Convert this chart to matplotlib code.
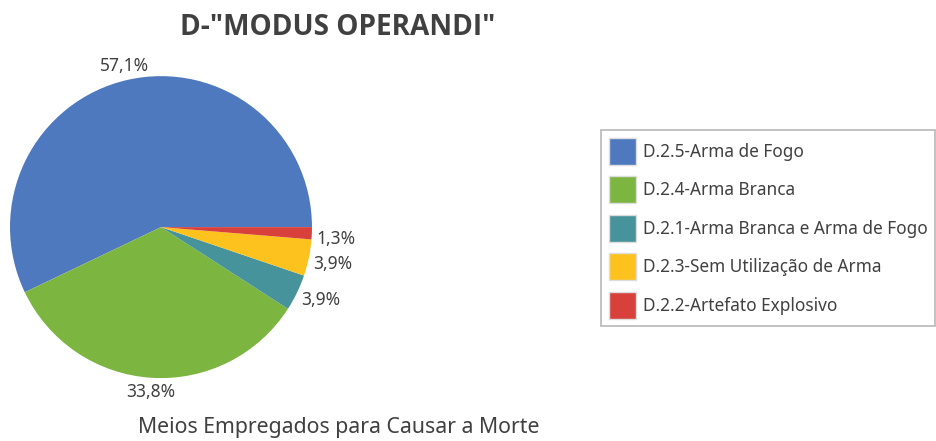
import matplotlib
matplotlib.use("Agg")
from matplotlib import pyplot as plt
from matplotlib.patches import Patch

# chart data, in drawing order (counter-clockwise from 3 o'clock)
categories = [
    "D.2.5-Arma de Fogo",
    "D.2.4-Arma Branca",
    "D.2.1-Arma Branca e Arma de Fogo",
    "D.2.3-Sem Utilização de Arma",
    "D.2.2-Artefato Explosivo",
]
shares = [57.1, 33.8, 3.9, 3.9, 1.3]
pct_labels = ["57,1%", "33,8%", "3,9%", "3,9%", "1,3%"]
colors = ["#4e79be", "#7db541", "#46939b", "#fdc21e", "#d8413b"]

TEXT = "#404040"
plt.rcParams["font.family"] = ["Noto Sans", "DejaVu Sans"]

fig = plt.figure(figsize=(9.36, 4.41), dpi=100)
ax = fig.add_axes([0.172 - 0.1613, 0.485 - 0.3424, 0.3226, 0.6848])

wedges, texts = ax.pie(
    shares,
    labels=pct_labels,
    colors=colors,
    startangle=0,
    counterclock=True,
    labeldistance=1.03,
    textprops={"color": TEXT, "fontsize": 12.5},
)
# top and bottom labels sit centred, a bit further out
for t in texts[:2]:
    t.set_ha("center")
    x, y = t.get_position()
    t.set_position((x * 1.065, y * 1.065))
# small slices: labels hang slightly below their radial point
for t in texts[2:]:
    t.set_va("top")
    x, y = t.get_position()
    t.set_position((x, y + 0.025))
ax.set_xlim(-1, 1)
ax.set_ylim(-1, 1)
ax.set_aspect("equal")

fig.text(0.361, 0.937, 'D-"MODUS OPERANDI"', ha="center", va="center",
         fontsize=20.2, fontweight="bold", color=TEXT,
         family=["Open Sans", "DejaVu Sans"])
fig.text(0.362, 0.031, "Meios Empregados para Causar a Morte",
         ha="center", va="center", fontsize=15.3, color=TEXT)

handles = [Patch(facecolor=c, edgecolor="#dddddd") for c in colors]
leg = fig.legend(
    handles, categories,
    loc="upper left", bbox_to_anchor=(0.642, 0.705),
    fontsize=12.4, frameon=True, fancybox=False,
    handlelength=1.57, handleheight=2.04, handletextpad=0.4,
    labelspacing=0.66, borderpad=0.45, borderaxespad=0,
)
leg.get_frame().set_edgecolor("#a6a6a6")
leg.get_frame().set_linewidth(1.2)
for t in leg.get_texts():
    t.set_color(TEXT)

fig.savefig("out.png", dpi=100)
plt.close(fig)
